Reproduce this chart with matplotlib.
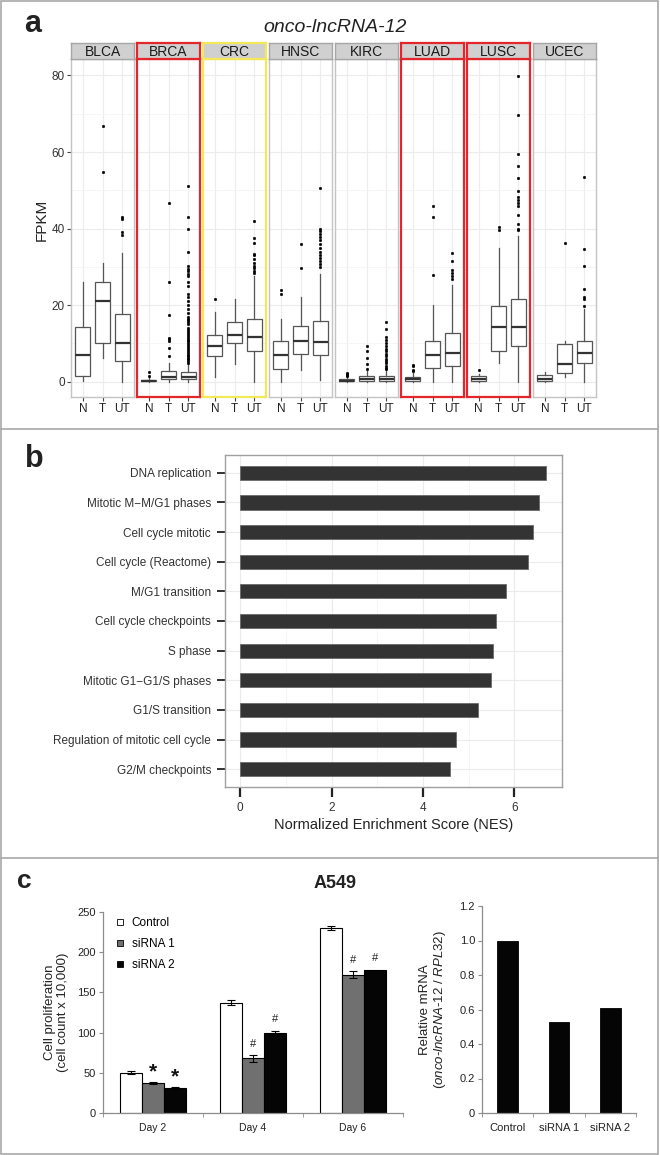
import matplotlib
matplotlib.use('Agg')
import matplotlib.pyplot as plt
from matplotlib.patches import Rectangle
from matplotlib.lines import Line2D
import numpy as np

plt.rcParams['font.family'] = ['Liberation Sans', 'DejaVu Sans']
plt.rcParams['mathtext.fontset'] = 'custom'
plt.rcParams['mathtext.rm'] = 'Liberation Sans'
plt.rcParams['mathtext.it'] = 'Liberation Sans:italic'
plt.rcParams['mathtext.bf'] = 'Liberation Sans:bold'

# ---------------- Panel a data ----------------
cancers = ['BLCA', 'BRCA', 'CRC', 'HNSC', 'KIRC', 'LUAD', 'LUSC', 'UCEC']
groups = ['N', 'T', 'UT']
highlight = {'BRCA': '#E3262B', 'LUAD': '#E3262B', 'LUSC': '#E3262B', 'CRC': '#F2E85A'}
box_q1 = [[1.6, 10.2, 5.5], [0.1, 0.8, 0.6], [6.6, 10.0, 8.1], [3.3, 7.3, 6.9],
          [0.05, 0.3, 0.3], [0.3, 3.5, 4.2], [0.3, 7.9, 9.4], [0.1, 2.3, 4.9]]
box_med = [[6.9, 21.1, 10.0], [0.3, 1.3, 1.2], [9.4, 12.2, 11.8], [7.0, 10.7, 10.3],
           [0.2, 0.8, 0.8], [0.7, 6.9, 7.5], [0.8, 14.4, 14.4], [0.8, 4.7, 7.4]]
box_q3 = [[14.4, 26.0, 17.6], [0.5, 2.7, 2.5], [12.2, 15.5, 16.3], [10.5, 14.6, 15.8],
          [0.6, 1.6, 1.6], [1.3, 10.6, 12.6], [1.4, 19.9, 21.5], [1.8, 9.9, 10.7]]
whisk_lo = [[0.3, 6.2, 0.0], [0.0, 0.0, 0.0], [1.1, 4.7, 0.0], [0.0, 3.1, 0.5],
            [0.0, 0.0, 0.0], [0.0, 0.0, 0.0], [0.0, 4.9, 0.0], [0.0, 1.1, 0.0]]
whisk_hi = [[26.0, 31.1, 33.6], [1.1, 5.0, 4.7], [18.1, 21.7, 27.5], [16.4, 22.2, 28.2],
            [1.2, 2.7, 3.0], [2.2, 20.0, 25.2], [2.0, 34.9, 38.0], [2.5, 10.7, 19.0]]
outliers = [
    [[], [54.8, 66.9], [38.3, 39.2, 42.4, 43.0]],
    [[1.5, 2.6], [6.8, 8.9, 10.6, 11.1, 11.4, 17.4, 26.0, 46.8],
     [5.0, 5.4, 5.8, 6.2, 6.6, 7.0, 7.5, 8.0, 8.5, 9.0, 9.5, 10.0, 10.5, 11.0, 11.5, 12.0,
      12.5, 13.0, 13.5, 14.0, 15.0, 15.5, 16.0, 16.5, 17.0, 18.0, 19.0, 20.0, 21.0, 22.0,
      23.0, 25.0, 26.0, 27.5, 28.2, 28.9, 29.5, 30.1, 33.8, 39.9, 43.1, 51.0]],
    [[21.7], [], [28.5, 29.0, 29.6, 30.3, 31.0, 32.0, 33.0, 33.4, 36.2, 37.6, 42.1]],
    [[23.0, 24.0], [29.7, 36.0],
     [30.0, 30.8, 31.6, 32.4, 33.2, 34.0, 35.0, 36.0, 37.0, 37.9, 38.6, 39.3, 40.0, 50.5]],
    [[1.5, 1.8, 2.1, 2.4], [3.3, 4.5, 6.1, 7.9, 9.2],
     [3.3, 3.6, 4.2, 4.9, 5.4, 6.0, 6.6, 7.3, 7.9, 8.5, 9.2, 10.0, 10.9, 11.8, 13.8, 15.5]],
    [[2.7, 3.1, 4.0, 4.4], [27.8, 43.1, 46.0], [26.7, 27.5, 28.4, 29.1, 31.5, 33.6]],
    [[3.1], [39.5, 40.3],
     [39.5, 39.9, 41.2, 43.6, 46.0, 46.8, 47.5, 48.3, 49.7, 53.3, 56.4, 59.4, 69.6, 79.8]],
    [[], [36.2], [19.8, 21.7, 22.2, 24.3, 30.3, 34.7, 53.6]],
]

# ---------------- Panel b data ----------------
pathways = ['DNA replication', 'Mitotic M\u2212M/G1 phases', 'Cell cycle mitotic',
            'Cell cycle (Reactome)', 'M/G1 transition', 'Cell cycle checkpoints',
            'S phase', 'Mitotic G1\u2212G1/S phases', 'G1/S transition',
            'Regulation of mitotic cell cycle', 'G2/M checkpoints']
nes = [6.68, 6.54, 6.41, 6.30, 5.81, 5.59, 5.54, 5.49, 5.20, 4.73, 4.59]

# ---------------- Panel c data ----------------
days = ['Day 2', 'Day 4', 'Day 6']
treatments = ['Control', 'siRNA 1', 'siRNA 2']
prolif_control = [50, 137, 230]
prolif_si1 = [37, 68, 172]
prolif_si2 = [31, 100, 178]
err_control = [2.0, 3.0, 2.5]
err_si1 = [1.5, 4.0, 4.0]
err_si2 = [1.0, 2.5, 0.0]
sig_marks = [['', '*', '*'], ['', '#', '#'], ['', '#', '#']]
rel_mrna = [1.0, 0.525, 0.61]

W, H = 660, 1155
fig = plt.figure(figsize=(W / 100, H / 100), dpi=100)
fig.patch.set_facecolor('white')


def rect(l, t, r, b):
    return [l / W, 1 - b / H, (r - l) / W, (b - t) / H]


def fx(x):
    return x / W


def fy(y):
    return 1 - y / H


# frame and separators
frame_col = '#A8A8A8'
fig.add_artist(Rectangle((fx(1), fy(1154)), fx(657), (1153) / H, transform=fig.transFigure,
                         fill=False, edgecolor=frame_col, lw=1.2))
for ys in (429, 858):
    fig.add_artist(Line2D([fx(1), fx(658)], [fy(ys), fy(ys)], transform=fig.transFigure,
                          color=frame_col, lw=1.2))

# ---------------- Panel a ----------------
fig.text(fx(24), fy(32), 'a', fontsize=22, fontweight='bold', ha='left', va='baseline', color='#222222')
fig.text(fx(335), fy(31.5), 'onco-lncRNA-12', fontsize=14, fontstyle='italic', ha='center',
         va='baseline', color='#222222')
fig.text(fx(42), fy(220), 'FPKM', fontsize=11, rotation=90, ha='center', va='center', color='#222222')

for i, cancer in enumerate(cancers):
    l = 71 + i * 66
    r = l + 63
    ax = fig.add_axes(rect(l, 59, r, 397))
    stats = []
    for g in range(3):
        stats.append(dict(med=box_med[i][g], q1=box_q1[i][g], q3=box_q3[i][g],
                          whislo=whisk_lo[i][g], whishi=whisk_hi[i][g],
                          fliers=outliers[i][g], label=groups[g]))
    ax.bxp(stats, positions=[1, 2, 3], widths=0.75, patch_artist=True, showcaps=False,
           boxprops=dict(facecolor='white', edgecolor='#555555', lw=0.9),
           medianprops=dict(color='#333333', lw=1.6),
           whiskerprops=dict(color='#555555', lw=0.9),
           flierprops=dict(marker='o', markersize=1.9, markerfacecolor='black',
                           markeredgecolor='black', markeredgewidth=0.3))
    ax.set_xlim(0.4, 3.6)
    ax.set_ylim(-4.0, 84.3)
    ax.set_yticks([0, 20, 40, 60, 80])
    ax.set_yticks([10, 30, 50, 70], minor=True)
    ax.set_xticks([1, 2, 3])
    ax.set_xticklabels(groups, fontsize=8.5, color='#222222')
    ax.grid(True, which='major', color='#ECECEC', lw=0.8)
    ax.grid(True, which='minor', axis='y', color='#F5F5F5', lw=0.6)
    ax.set_axisbelow(True)
    ax.tick_params(axis='x', length=3, color='#444444', pad=1.5)
    ax.tick_params(axis='y', which='minor', length=0)
    if i == 0:
        ax.tick_params(axis='y', length=3, color='#444444', pad=1.5, labelsize=8.5,
                       labelcolor='#333333')
    else:
        ax.tick_params(axis='y', length=0, labelleft=False)
    col = highlight.get(cancer, '#C4C4C4')
    lw = 1.6 if cancer in highlight else 1.0
    for sp in ax.spines.values():
        sp.set_color(col)
        sp.set_linewidth(lw)
    sax = fig.add_axes(rect(l, 43, r, 59))
    sax.set_facecolor('#D0D0D0')
    sax.set_xticks([])
    sax.set_yticks([])
    scol = highlight.get(cancer, '#A6A6A6')
    for sp in sax.spines.values():
        sp.set_color(scol)
        sp.set_linewidth(lw)
    sax.text(0.5, 0.45, cancer, transform=sax.transAxes, ha='center', va='center',
             fontsize=10, color='#1A1A1A')

# ---------------- Panel b ----------------
fig.text(fx(25), fy(466.5), 'b', fontsize=22, fontweight='bold', ha='left', va='baseline', color='#222222')
axb = fig.add_axes(rect(225, 455, 562, 787))
ypos = np.arange(len(pathways))[::-1] + 1
axb.barh(ypos, nes, height=0.48, color='#333333', edgecolor='#6A6A6A', lw=0.6, zorder=3)
axb.set_xlim(-0.335, 7.04)
axb.set_ylim(0.4, len(pathways) + 0.6)
axb.set_yticks(ypos)
axb.set_yticklabels(pathways, fontsize=8.5, color='#333333')
axb.set_xticks([0, 2, 4, 6])
axb.set_xticks([1, 3, 5], minor=True)
axb.set_xticklabels(['0', '2', '4', '6'], fontsize=8.5, color='#333333')
axb.grid(True, which='major', color='#EBEBEB', lw=0.8)
axb.grid(True, which='minor', axis='x', color='#F4F4F4', lw=0.6)
axb.set_axisbelow(True)
axb.tick_params(axis='y', length=6, width=1.3, color='#222222', pad=4)
axb.tick_params(axis='x', which='major', length=7, width=1.6, color='#222222', pad=4)
axb.tick_params(axis='x', which='minor', length=0)
for sp in axb.spines.values():
    sp.set_color('#A0A0A0')
    sp.set_linewidth(1.0)
axb.set_xlabel('Normalized Enrichment Score (NES)', fontsize=10.5, color='#222222', labelpad=3)

# ---------------- Panel c ----------------
fig.text(fx(17), fy(888), 'c', fontsize=19, fontweight='bold', ha='left', va='baseline', color='#222222')
fig.text(fx(335), fy(888), 'A549', fontsize=13, fontweight='bold', ha='center', va='baseline',
         color='#222222')

axc = fig.add_axes(rect(103, 912, 403, 1113))
x = np.arange(len(days))
bw = 0.222
series = [(prolif_control, err_control, 'white'), (prolif_si1, err_si1, '#707070'),
          (prolif_si2, err_si2, '#050505')]
for k, (vals, errs, colr) in enumerate(series):
    xs = x + (k - 1) * bw
    axc.bar(xs, vals, width=bw, color=colr, edgecolor='black', lw=0.8, label=treatments[k], zorder=2)
    errs_arr = np.array(errs)
    mask = errs_arr > 0
    axc.errorbar(xs[mask], np.array(vals)[mask], yerr=errs_arr[mask], fmt='none', ecolor='black',
                 elinewidth=0.8, capsize=2.6, capthick=0.8, zorder=3)
for d in range(len(days)):
    for k in (1, 2):
        mark = sig_marks[d][k]
        vals = series[k][0]
        errs = series[k][1]
        top = vals[d] + errs[d]
        if mark == '*':
            axc.text(x[d] + (k - 1) * bw, top + 1, mark, ha='center', va='bottom', fontsize=15,
                     fontweight='bold', color='#111111')
        else:
            axc.text(x[d] + (k - 1) * bw, top + 8, mark, ha='center', va='bottom', fontsize=8,
                     color='#222222')
axc.set_xlim(-0.5, 2.5)
axc.set_ylim(0, 250)
axc.set_yticks([0, 50, 100, 150, 200, 250])
axc.set_yticklabels(['0', '50', '100', '150', '200', '250'], fontsize=8, color='#222222')
axc.set_xticks(x)
axc.set_xticklabels(days, fontsize=7.5, color='#222222')
axc.set_xticks([-0.5, 0.5, 1.5, 2.5], minor=True)
axc.tick_params(axis='x', which='major', length=0, pad=7)
axc.tick_params(axis='x', which='minor', length=3, color='#8C8C8C')
axc.tick_params(axis='y', length=3, color='#8C8C8C', pad=2)
for s in ('top', 'right'):
    axc.spines[s].set_visible(False)
for s in ('left', 'bottom'):
    axc.spines[s].set_color('#8C8C8C')
    axc.spines[s].set_linewidth(0.9)
axc.set_ylabel('Cell proliferation\n(cell count x 10,000)', fontsize=9.5, color='#222222',
               labelpad=6, linespacing=1.15)
handles = [Line2D([], [], marker='s', linestyle='none', markersize=4.5, markerfacecolor=c,
                  markeredgecolor='black', markeredgewidth=0.6) for c in ['white', '#707070', '#050505']]
axc.legend(handles, treatments, loc='upper left', bbox_to_anchor=(0.013, 1.015), frameon=False,
           fontsize=8.5, handlelength=0.8, handletextpad=0.6, labelspacing=0.75, borderaxespad=0.3)

axr = fig.add_axes(rect(482, 906, 636, 1113))
xr = np.arange(len(treatments))
axr.bar(xr, rel_mrna, width=0.4, color='#050505', edgecolor='black', lw=0.6)
axr.set_xlim(-0.5, 2.5)
axr.set_ylim(0, 1.2)
axr.set_yticks([0, 0.2, 0.4, 0.6, 0.8, 1.0, 1.2])
axr.set_yticklabels(['0', '0.2', '0.4', '0.6', '0.8', '1.0', '1.2'], fontsize=8, color='#222222')
axr.set_xticks(xr)
axr.set_xticklabels(treatments, fontsize=8, color='#222222')
axr.set_xticks([-0.5, 0.5, 1.5, 2.5], minor=True)
axr.tick_params(axis='x', which='major', length=0, pad=7)
axr.tick_params(axis='x', which='minor', length=3, color='#8C8C8C')
axr.tick_params(axis='y', length=3, color='#8C8C8C', pad=2)
for s in ('top', 'right'):
    axr.spines[s].set_visible(False)
for s in ('left', 'bottom'):
    axr.spines[s].set_color('#8C8C8C')
    axr.spines[s].set_linewidth(0.9)
axr.set_ylabel('Relative mRNA\n($\\mathit{onco\u2010lncRNA\u201012}$ / $\\mathit{RPL32}$)',
               fontsize=9.5, color='#222222', labelpad=8, linespacing=1.15)

fig.savefig('out.png', dpi=100, facecolor='white')
